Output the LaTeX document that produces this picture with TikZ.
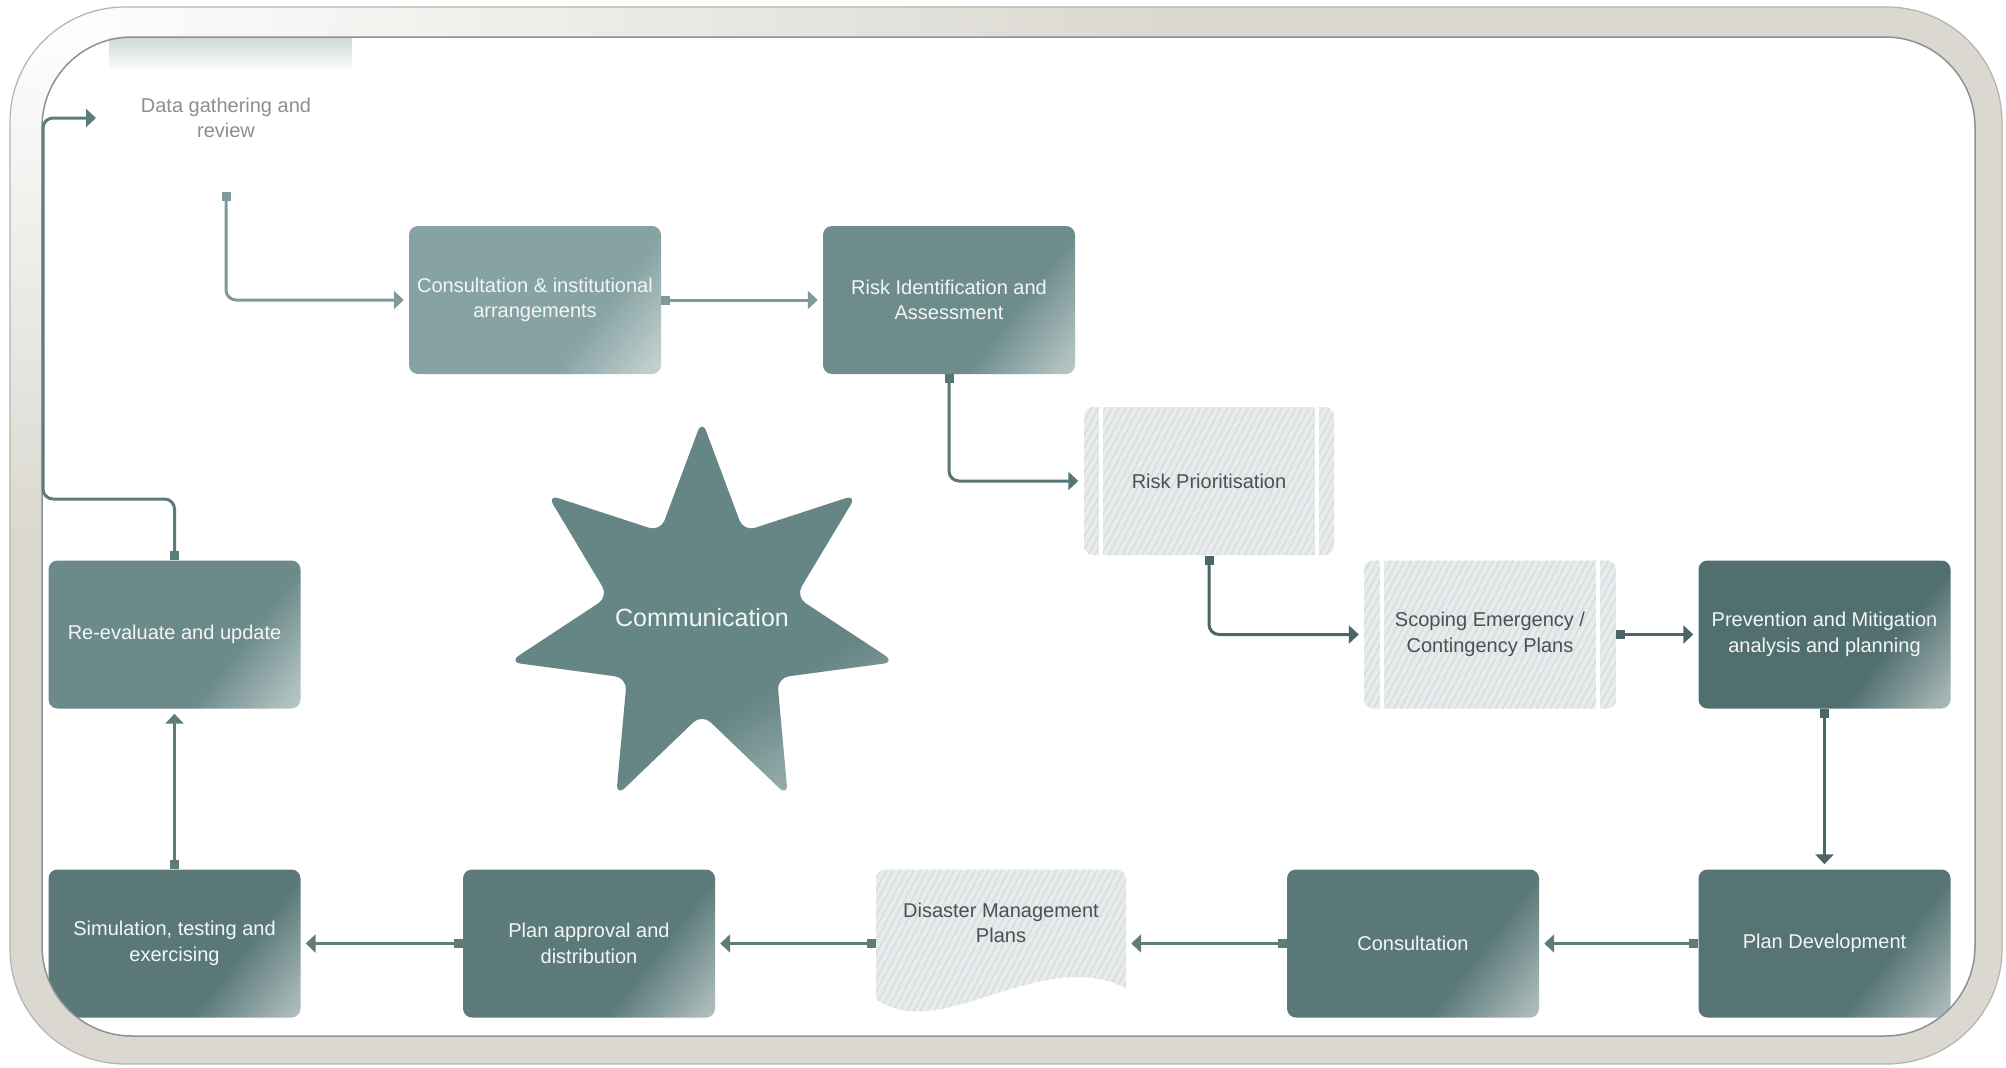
\documentclass[tikz,border=0pt]{standalone}
\usepackage{fontspec}
\setmainfont{Liberation Sans}
\usetikzlibrary{arrows.meta,patterns.meta,calc}

% palette
\definecolor{frameC}{HTML}{DAD8D0}
\definecolor{frameEdge}{HTML}{B5B3AB}
\definecolor{rimC}{HTML}{8C9292}
\definecolor{tealA}{HTML}{86A2A2}
\definecolor{tealB}{HTML}{6E8C8C}
\definecolor{tealC}{HTML}{6C8A8A}
\definecolor{tealD}{HTML}{5A7878}
\definecolor{tealE}{HTML}{5C7A7A}
\definecolor{tealF}{HTML}{5B7878}
\definecolor{tealG}{HTML}{567474}
\definecolor{tealH}{HTML}{516F6F}
\definecolor{starC}{HTML}{668585}
\definecolor{hatchBg}{HTML}{E8EBEC}
\definecolor{hatchLn}{HTML}{D7DCDE}
\definecolor{hatchTx}{HTML}{4B5152}
\definecolor{boxTx}{HTML}{F2F6F6}
\definecolor{dataTx}{HTML}{8C8F8F}
\definecolor{lineA}{HTML}{7E9B9B}
\definecolor{lineB}{HTML}{587575}
\definecolor{lineC}{HTML}{4B6666}
\definecolor{lineD}{HTML}{5E7C7C}

% diagonal sheen towards the lower right corner of each box
\colorlet{sheenbase}{tealA}
\pgfdeclarehorizontalshading[sheenbase]{sheen}{100bp}{color(0bp)=(sheenbase); color(64bp)=(sheenbase); color(81bp)=(sheenbase!55!white); color(100bp)=(sheenbase!20!white)}

\newcommand\nodefont{\fontsize{20}{25.5}\selectfont}

\tikzset{
  tealbox/.style={rectangle, rounded corners=9pt, minimum width=252pt, minimum height=148pt,
    inner sep=0pt, align=center, text=boxTx, font=\nodefont,
    /utils/exec={\colorlet{sheenbase}{#1}}, shade, shading=sheen, shading angle=-38},
  hatchfill/.style={preaction={fill=hatchBg},
    pattern={Lines[angle=62,distance=6pt,line width=1.4pt]}, pattern color=hatchLn},
  hatchbox/.style={rectangle, rounded corners=9pt, minimum width=250pt, minimum height=148pt,
    inner sep=0pt, align=center, text=hatchTx, font=\nodefont, hatchfill},
  procline/.style={white, line width=4pt},
  conn/.style={draw=#1, line width=3pt, rounded corners=10pt,
    arrows={Square[length=9pt,width=9pt]-Triangle[length=10pt,width=18pt]}, shorten >=5pt},
}

\begin{document}
\begin{tikzpicture}[x=1pt,y=-1pt]
\useasboundingbox (0,0) rectangle (2006,1068);
\fill[white] (0,0) rectangle (2006,1068);

% frame: beige band fading to white around the upper left corner
\begin{scope}
  \clip[rounded corners=115pt] (10,7) rectangle (2002,1064);
  \fill[frameC] (0,0) rectangle (2006,1068);
  \shade[inner color=white, outer color=frameC] (20,15) ellipse[x radius=1150pt, y radius=520pt];
\end{scope}
\draw[frameEdge, line width=1.2pt, rounded corners=115pt] (10,7) rectangle (2002,1064);
\fill[white, rounded corners=90pt] (42,37) rectangle (1975,1036);

% faint tint below the upper left rim
\shade[top color=tealA!40!white, bottom color=white] (109,38) rectangle (352,72);

\begin{scope}
\clip[rounded corners=90pt] (42,37) rectangle (1975,1036);

% communication star
\begin{scope}[shift={(702,618)}]
  \colorlet{sheenbase}{starC}
  \path[shade, shading=sheen, shading angle=-60, rounded corners=12pt]
    (90:198pt) -- (115.71:96pt) -- (141.43:198pt) -- (167.14:96pt) --
    (192.86:198pt) -- (218.57:96pt) -- (244.29:198pt) -- (270:96pt) --
    (295.71:198pt) -- (321.43:96pt) -- (347.14:198pt) -- (12.86:96pt) --
    (38.57:198pt) -- (64.29:96pt) -- cycle;
\end{scope}
\node[text=boxTx, font=\fontsize{25}{30}\selectfont] (comm) at (702,618) {Communication};

% process boxes
\node[text=dataTx, font=\nodefont, align=center] (data) at (226,118) {Data gathering and\\review};

\node[tealbox=tealA] (cons1) at (535,300) {Consultation \& institutional\\arrangements};
\node[tealbox=tealB] (riskid) at (949,300) {Risk Identification and\\Assessment};
\node[hatchbox] (riskprio) at (1209,481) {Risk Prioritisation};
\node[hatchbox, minimum width=252pt] (scoping) at (1490,634.5) {Scoping Emergency /\\Contingency Plans};
\node[tealbox=tealH] (prevent) at (1824.5,634.5) {Prevention and Mitigation\\analysis and planning};
\node[tealbox=tealG] (plandev) at (1824.5,943.5) {Plan Development};
\node[tealbox=tealF] (cons2) at (1413,943.5) {Consultation};
\node[tealbox=tealE] (planapp) at (589,943.5) {Plan approval and\\distribution};
\node[tealbox=tealD] (sim) at (174.5,943.5) {Simulation, testing and\\exercising};
\node[tealbox=tealC] (reeval) at (174.5,634.5) {Re-evaluate and update};

% inner bars of the two predefined-process boxes
\foreach \n in {riskprio,scoping}{
  \draw[procline] ([xshift=18pt]\n.north west) -- ([xshift=18pt]\n.south west);
  \draw[procline] ([xshift=-18pt]\n.north east) -- ([xshift=-18pt]\n.south east);
}

% document shape
\node[minimum width=250pt, minimum height=148pt, inner sep=0pt] (dmp) at (1001,943.5) {};
\path[hatchfill]
  (876,999) -- (876,879) arc[start angle=180, end angle=90, radius=9.5pt]
  -- (1116.5,869.5) arc[start angle=90, end angle=0, radius=9.5pt]
  -- (1126,988) .. controls (1040,945) and (940,1045) .. (876,999) -- cycle;
\node[text=hatchTx, font=\nodefont, align=center] (dmptext) at (1001,923) {Disaster Management\\Plans};
\end{scope}

% inner rim of the frame
\draw[rimC, line width=1.5pt, rounded corners=90pt] (42,37) rectangle (1975,1036);

% connector end points
\coordinate (dataOut) at (226,192);
\coordinate (dataIn) at (96,118);
\coordinate (loopA) at (43,499);
\coordinate (loopB) at (43,118);

% connectors
\draw[conn=lineA] (dataOut) |- (cons1.west);
\draw[conn=lineA] (cons1.east) -- (riskid.west);
\draw[conn=lineB] (riskid.south) |- (riskprio.west);
\draw[conn=lineC] (riskprio.south) |- (scoping.west);
\draw[conn=lineC] (scoping.east) -- (prevent.west);
\draw[conn=lineC] (prevent.south) -- (plandev.north);
\draw[conn=lineD] (plandev.west) -- (cons2.east);
\draw[conn=lineD] (cons2.west) -- (dmp.east);
\draw[conn=lineD] (dmp.west) -- (planapp.east);
\draw[conn=lineD] (planapp.west) -- (sim.east);
\draw[conn=lineD] (sim.north) -- (reeval.south);
\draw[conn=lineD, shorten >=0pt] (reeval.north) |- (loopA) -- (loopB) -- (dataIn);
\end{tikzpicture}
\end{document}
